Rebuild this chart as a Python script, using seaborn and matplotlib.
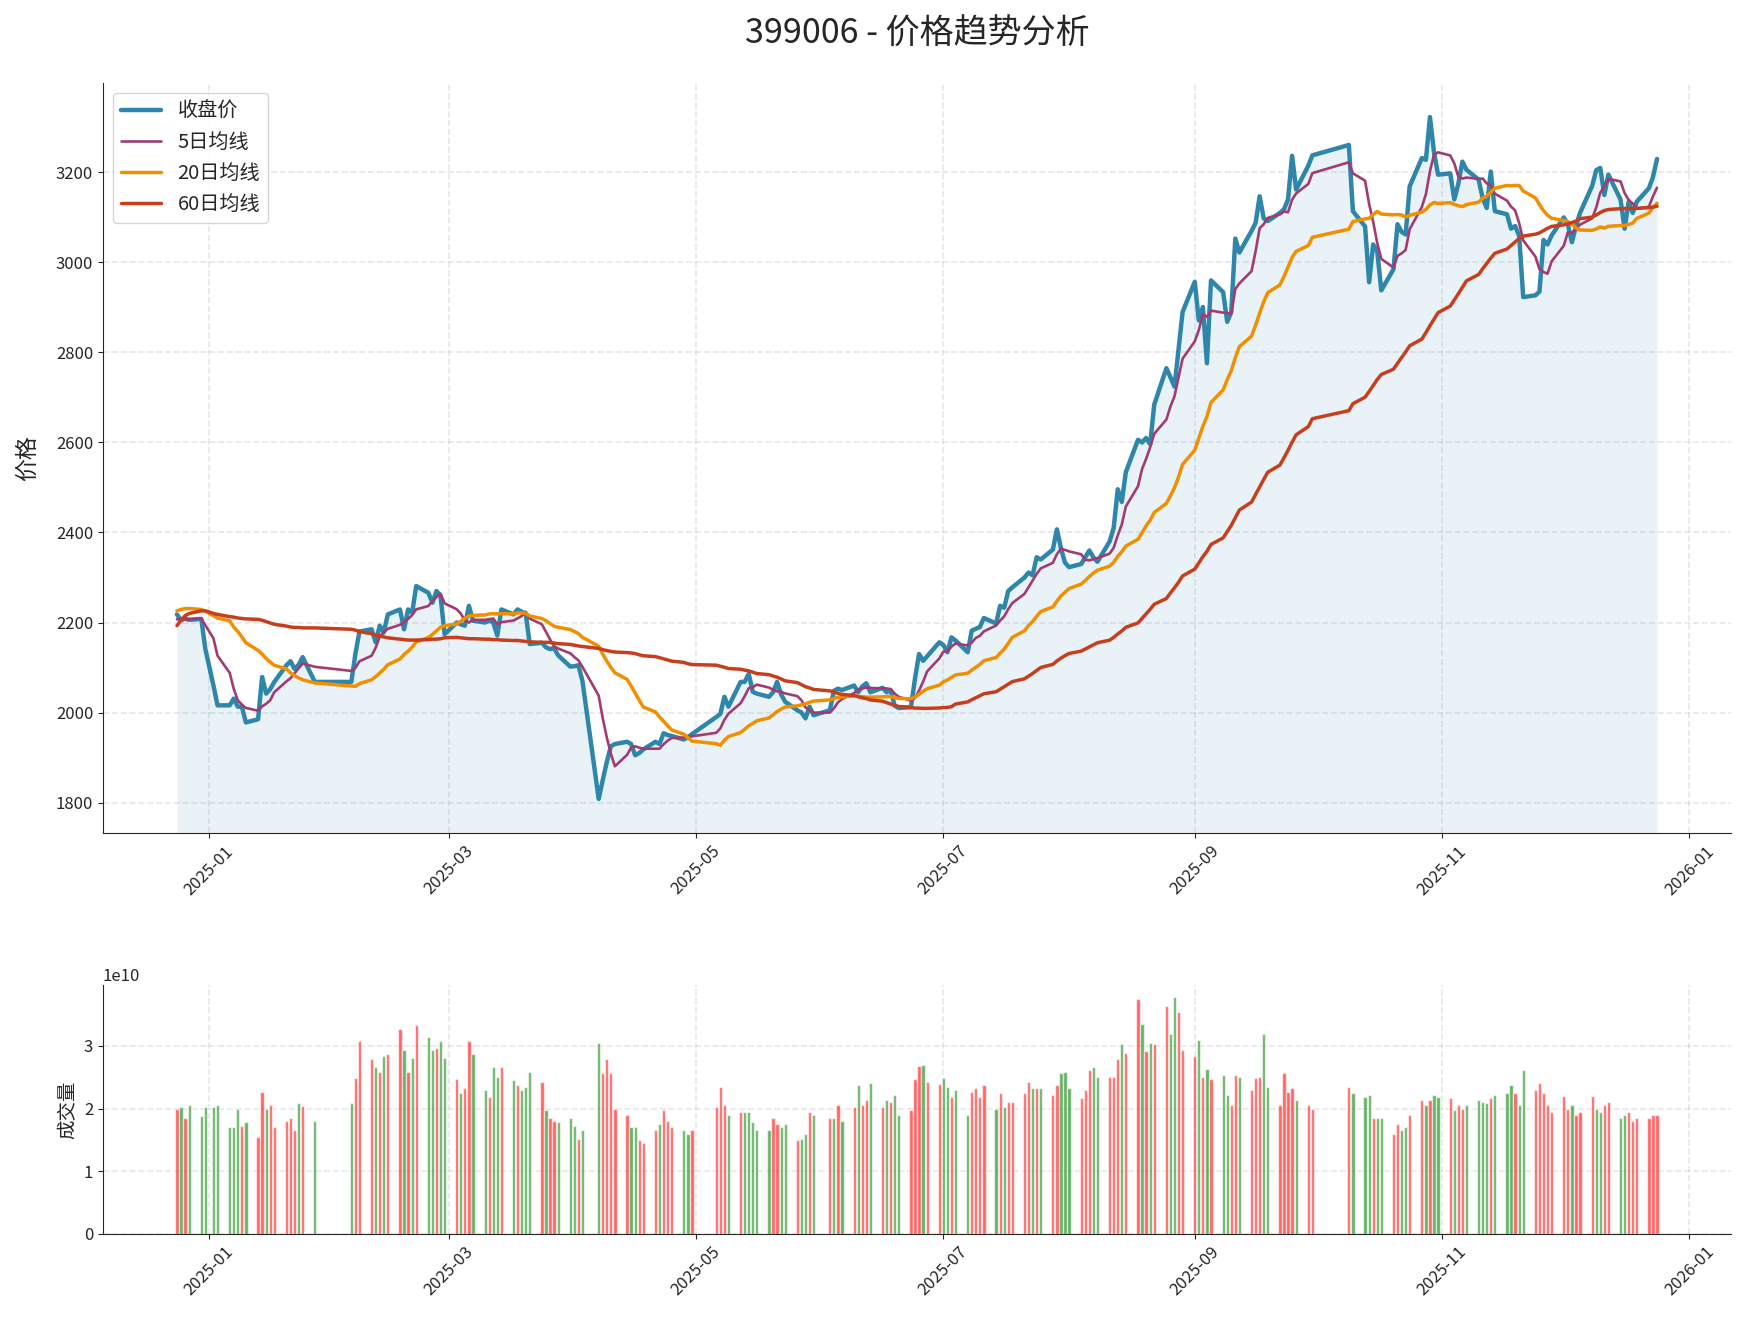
import numpy as np
import pandas as pd
import matplotlib
matplotlib.use("Agg")
import matplotlib.pyplot as plt
import matplotlib.dates as mdates
import seaborn as sns

# ---------------- data ----------------
holidays = ["2025-01-01", "2025-01-28", "2025-01-29", "2025-01-30", "2025-01-31",
            "2025-02-03", "2025-02-04", "2025-04-04", "2025-05-01", "2025-05-02",
            "2025-05-05", "2025-06-02", "2025-10-01", "2025-10-02", "2025-10-03",
            "2025-10-06", "2025-10-07", "2025-10-08"]
dates = pd.bdate_range("2024-12-24", "2025-12-24", freq="C", holidays=holidays)

close_2024_12 = [2218, 2205, 2209, 2206, 2208, 2141]
close_2025_01 = [2060, 2016, 2016, 2031, 2013, 2013, 1978, 1985, 2079, 2042, 2052, 2068,
                 2105, 2114, 2097, 2106, 2123, 2068]
close_2025_02 = [2068, 2130, 2180, 2185, 2156, 2193, 2178, 2218, 2229, 2185, 2229, 2222,
                 2281, 2266, 2244, 2270, 2259, 2174]
close_2025_03 = [2200, 2196, 2193, 2237, 2204, 2200, 2204, 2200, 2171, 2229, 2218, 2229,
                 2224, 2220, 2152, 2155, 2145, 2141, 2143, 2127, 2102]
close_2025_04 = [2103, 2105, 2070, 1808, 1850, 1890, 1925, 1930, 1935, 1930, 1905, 1910,
                 1918, 1935, 1930, 1954, 1950, 1948, 1940, 1945, 1952]
close_2025_05 = [1990, 1997, 2035, 2013, 2068, 2068, 2086, 2046, 2042, 2035, 2045, 2068,
                 2040, 2024, 2005, 2000, 1987, 2013, 1994]
close_2025_06 = [2005, 2048, 2053, 2050, 2060, 2045, 2058, 2065, 2045, 2055, 2045, 2050,
                 2015, 2010, 2012, 2075, 2130, 2115, 2125, 2156]
close_2025_07 = [2150, 2134, 2167, 2160, 2134, 2182, 2186, 2190, 2210, 2198, 2237, 2233,
                 2270, 2278, 2300, 2311, 2305, 2345, 2340, 2362, 2407, 2365, 2333]
close_2025_08 = [2323, 2330, 2345, 2360, 2345, 2335, 2380, 2410, 2496, 2468, 2534, 2606,
                 2600, 2610, 2596, 2684, 2765, 2745, 2724, 2807, 2890]
close_2025_09 = [2957, 2871, 2901, 2776, 2960, 2934, 2868, 2890, 3053, 3022, 3070, 3088,
                 3147, 3098, 3092, 3110, 3118, 3140, 3237, 3162, 3215, 3238]
close_2025_10 = [3261, 3114, 3080, 2956, 3040, 3025, 2938, 2985, 3085, 3068, 3062, 3169,
                 3232, 3228, 3323, 3245, 3195]
close_2025_11 = [3198, 3140, 3175, 3224, 3206, 3184, 3143, 3121, 3202, 3114, 3107, 3075,
                 3081, 3059, 2923, 2927, 2935, 3050, 3040, 3060]
close_2025_12 = [3100, 3085, 3045, 3080, 3110, 3170, 3205, 3210, 3150, 3195, 3140, 3075,
                 3135, 3110, 3135, 3165, 3190, 3230]

# moving-average values before enough history exists in the window
ma5_head = [2207, 2207, 2207, 2207]
ma20_head = [2226, 2229, 2231, 2231, 2229, 2225, 2215, 2210, 2204, 2190, 2180, 2168,
             2155, 2138, 2130, 2120, 2112, 2105, 2097]
ma60_head = [2193, 2205, 2215, 2220, 2226, 2226, 2220, 2218, 2213, 2212, 2210, 2209,
             2208, 2207, 2205, 2202, 2199, 2196, 2192, 2190, 2189, 2189, 2188, 2188,
             2185, 2183, 2180, 2175, 2172, 2170, 2168, 2166, 2163, 2162, 2161, 2161,
             2161, 2162, 2163, 2163, 2164, 2166, 2167, 2166, 2165, 2164, 2164, 2163,
             2163, 2162, 2162, 2161, 2160, 2160, 2159, 2158, 2157, 2156, 2156]

# volume in units of 1e10, and bar colour (r = up, g = down)
vol_2024_12 = [1.99, 2.02, 1.85, 2.06, 1.88, 2.03]
col_2024_12 = "rgrggg"
vol_2025_01 = [2.02, 2.05, 1.70, 1.70, 1.99, 1.72, 1.78, 1.55, 2.26, 1.99, 2.06, 1.70,
               1.80, 1.85, 1.65, 2.08, 2.04, 1.80]
col_2025_01 = "gggggrgrrgrrrrrgrg"
vol_2025_02 = [2.08, 2.48, 3.07, 2.79, 2.66, 2.58, 2.83, 2.87, 3.27, 2.93, 2.59, 2.80,
               3.33, 3.14, 2.93, 2.96, 3.07, 2.80]
col_2025_02 = "grrrgrgrrgrgrggrgg"
vol_2025_03 = [2.47, 2.24, 2.32, 3.07, 2.87, 2.30, 2.19, 2.66, 2.50, 2.66, 2.45, 2.37,
               2.29, 2.35, 2.59, 2.43, 1.97, 1.85, 1.80, 1.78, 1.85]
col_2025_03 = "rgrrggrggrgrgggrgrrgg"
vol_2025_04 = [1.72, 1.52, 1.65, 3.04, 2.56, 2.79, 2.56, 2.00, 1.90, 1.70, 1.70, 1.50,
               1.45, 1.65, 1.75, 1.98, 1.80, 1.70, 1.65, 1.60, 1.65]
col_2025_04 = "grggrrrrrggrrrgrrrggr"
vol_2025_05 = [2.03, 2.35, 2.06, 1.90, 1.94, 1.95, 1.95, 1.78, 1.65, 1.65, 1.85, 1.75,
               1.70, 1.75, 1.50, 1.52, 1.60, 1.94, 1.90]
col_2025_05 = "rrrgrggggg" + "rrggrggrg"
vol_2025_06 = [1.85, 1.85, 2.06, 1.80, 2.02, 2.37, 2.06, 2.13, 2.40, 2.02, 2.14, 2.10,
               2.21, 1.90, 1.98, 2.47, 2.67, 2.69, 2.42, 2.39]
col_2025_06 = "rgrgrgrrgrgrggrrrgrr"
vol_2025_07 = [2.48, 2.34, 2.18, 2.30, 1.90, 2.27, 2.32, 2.19, 2.37, 2.00, 2.24, 2.03,
               2.11, 2.11, 2.24, 2.42, 2.32, 2.32, 2.32, 2.22, 2.37, 2.56, 2.58]
col_2025_07 = "ggrggrrrrgrgrrrrgrgrrgg"
vol_2025_08 = [2.32, 2.16, 2.29, 2.61, 2.66, 2.50, 2.51, 2.51, 2.79, 3.03, 2.88, 3.75,
               3.35, 2.91, 3.04, 3.03, 3.64, 3.19, 3.78, 3.54, 2.93]
col_2025_08 = "grrrggrrrgrrgrgrrggrr"
vol_2025_09 = [2.83, 3.09, 2.50, 2.63, 2.47, 2.53, 2.21, 2.06, 2.53, 2.50, 2.30, 2.48,
               2.50, 3.19, 2.34, 2.05, 2.56, 2.27, 2.32, 2.13, 2.05, 2.00]
col_2025_09 = "rgrgrggrrgrrrggrrrrgrr"
vol_2025_10 = [2.35, 2.24, 2.18, 2.21, 1.85, 1.85, 1.85, 1.60, 1.75, 1.65, 1.70, 1.90,
               2.13, 2.06, 2.13, 2.22, 2.19]
col_2025_10 = "rgggrggrrggrrgrgg"
vol_2025_11 = [2.16, 1.98, 2.06, 2.00, 2.05, 2.13, 2.11, 2.08, 2.16, 2.21, 2.24, 2.37,
               2.24, 2.06, 2.61, 2.30, 2.40, 2.25, 2.05, 1.95]
col_2025_11 = "rgrrggggrgggrggrrrrr"
vol_2025_12 = [2.20, 2.00, 2.05, 1.90, 1.95, 2.20, 2.00, 1.95, 2.05, 2.10, 1.85, 1.90,
               1.95, 1.80, 1.85, 1.85, 1.90, 1.90]
col_2025_12 = "rrgrrrggrrggrrrrrr"

title = "399006 - 价格趋势分析"
labels = ["收盘价", "5日均线", "20日均线", "60日均线"]
palette = ["#2E86AB", "#A23B72", "#F18F01", "#C73E1D"]
tick_months = [1, 3, 5, 7, 9, 11]

# ---------------- assemble ----------------
close = np.array(close_2024_12 + close_2025_01 + close_2025_02 + close_2025_03 +
                 close_2025_04 + close_2025_05 + close_2025_06 + close_2025_07 +
                 close_2025_08 + close_2025_09 + close_2025_10 + close_2025_11 +
                 close_2025_12, dtype=float)
volume = np.array(vol_2024_12 + vol_2025_01 + vol_2025_02 + vol_2025_03 + vol_2025_04 +
                  vol_2025_05 + vol_2025_06 + vol_2025_07 + vol_2025_08 + vol_2025_09 +
                  vol_2025_10 + vol_2025_11 + vol_2025_12) * 1e10
cols = (col_2024_12 + col_2025_01 + col_2025_02 + col_2025_03 + col_2025_04 +
        col_2025_05 + col_2025_06 + col_2025_07 + col_2025_08 + col_2025_09 +
        col_2025_10 + col_2025_11 + col_2025_12)
n = min(len(dates), len(close), len(volume), len(cols))
dates, close, volume, cols = dates[:n], close[:n], volume[:n], cols[:n]

df = pd.DataFrame({"date": dates, "close": close, "volume": volume})
df["ma5"] = df["close"].rolling(5).mean()
df["ma20"] = df["close"].rolling(20).mean()
df["ma60"] = df["close"].rolling(60).mean()
df.loc[:len(ma5_head) - 1, "ma5"] = ma5_head
df.loc[:len(ma20_head) - 1, "ma20"] = ma20_head
df.loc[:len(ma60_head) - 1, "ma60"] = ma60_head
bar_colors = ["red" if c == "r" else "green" for c in cols]

# ---------------- plot ----------------
sns.set_style("ticks")
plt.rcParams["font.family"] = ["Noto Sans CJK SC", "DejaVu Sans"]
plt.rcParams["axes.unicode_minus"] = False

fig = plt.figure(figsize=(17.45, 13.32), dpi=100)
ax1 = fig.add_axes([0.059, 0.3746, 0.933, 0.5631])
ax2 = fig.add_axes([0.059, 0.0736, 0.933, 0.1869])

span = df["close"].max() - df["close"].min()
lo = df["close"].min() - 0.05 * span
hi = df["close"].max() + 0.05 * span

sns.lineplot(data=df, x="date", y="close", ax=ax1, color=palette[0], linewidth=3.2,
             label=labels[0])
ax1.fill_between(df["date"], df["close"], lo, color=palette[0], alpha=0.1, linewidth=0)
sns.lineplot(data=df, x="date", y="ma5", ax=ax1, color=palette[1], linewidth=1.9,
             label=labels[1])
sns.lineplot(data=df, x="date", y="ma20", ax=ax1, color=palette[2], linewidth=2.5,
             label=labels[2])
sns.lineplot(data=df, x="date", y="ma60", ax=ax1, color=palette[3], linewidth=2.5,
             label=labels[3])
ax1.set_ylim(lo, hi)

ax1.set_title(title, fontsize=24.5, pad=28)
ax1.set_ylabel("价格", fontsize=16.5, labelpad=12)
ax1.set_xlabel("")
ax1.legend(loc="upper left", fontsize=14.5, frameon=True)

ax2.bar(df["date"], df["volume"], width=0.8, color=bar_colors, alpha=0.6)
ax2.set_xlim(ax1.get_xlim())
ax2.set_ylabel("成交量", fontsize=14)
ax2.set_xlabel("")

for ax in (ax1, ax2):
    ax.grid(True, linestyle="--", color="#b0b0b0", alpha=0.3, linewidth=1.2)
    ax.xaxis.set_major_locator(mdates.MonthLocator(bymonth=tick_months))
    ax.xaxis.set_major_formatter(mdates.DateFormatter("%Y-%m"))
    ax.tick_params(axis="x", rotation=45, labelsize=12)
    ax.tick_params(axis="y", labelsize=12)
    sns.despine(ax=ax)
ax2.yaxis.get_offset_text().set_fontsize(12)

fig.savefig("out.png", dpi=100)
